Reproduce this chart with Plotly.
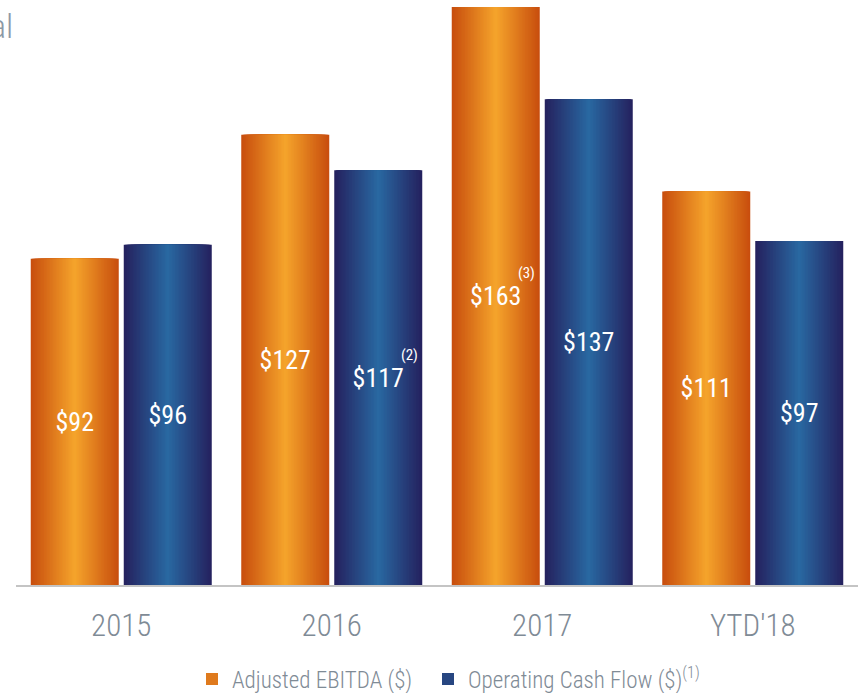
import plotly.graph_objects as go

categories = ["2015", "2016", "2017", "YTD'18"]
ebitda = [92, 127, 163, 111]
ocf = [96, 117, 137, 97]
ebitda_notes = ["", "", "(3)", ""]
ocf_notes = ["", "(2)", "", ""]
series_names = ["Adjusted EBITDA ($)", "Operating Cash Flow ($)<sup>(1)</sup>"]

FONT = "Roboto Condensed, Liberation Sans Narrow, Arial Narrow, DejaVu Sans Condensed, sans-serif"

def lerp(c1, c2, t):
    return "rgb(%d,%d,%d)" % tuple(round(a + (b - a) * t) for a, b in zip(c1, c2))

ORANGE_EDGE, ORANGE_MID = (200, 78, 14), (246, 166, 44)
BLUE_EDGE, BLUE_MID = (37, 34, 95), (41, 106, 163)

CAT_PX = 842 / 4
W = 88 / 210.5
C = 46.5 / 210.5
N = 30

fig = go.Figure()

def add_series(vals, notes, name, edge, mid, center, legend):
    for k in range(N):
        t = k / N
        w = W * (1 - t)
        fig.add_trace(go.Bar(
            x=categories, y=vals, width=[w] * len(vals), offset=center - w / 2,
            marker=dict(color=lerp(edge, mid, t), line=dict(width=0)),
            showlegend=(k == N // 2), name=name, legend=legend,
            hoverinfo="skip",
        ))
    labels = ["$%d" % v for v in vals]
    fig.add_trace(go.Bar(
        x=categories, y=vals, width=[W] * len(vals), offset=center - W / 2,
        marker=dict(color="rgba(0,0,0,0)", line=dict(width=0)),
        text=labels, textposition="inside", insidetextanchor="middle",
        constraintext="none", texttemplate="%{text}", textangle=0,
        textfont=dict(color="white", size=26, family=FONT),
        showlegend=False, hoverinfo="skip",
    ))
    for i, (v, n) in enumerate(zip(vals, notes)):
        if n:
            fig.add_annotation(x=i, y=v / 2, xref="x", yref="y", text=n,
                               showarrow=False, xshift=center * CAT_PX + 31, yshift=23,
                               font=dict(size=15, color="white", family=FONT))

add_series(ebitda, ebitda_notes, series_names[0], ORANGE_EDGE, ORANGE_MID, -C, "legend")
add_series(ocf, ocf_notes, series_names[1], BLUE_EDGE, BLUE_MID, C, "legend2")

fig.add_annotation(text="al", x=0, y=1, xref="paper", yref="paper", xanchor="right",
                   yanchor="top", xshift=-1, yshift=-4, showarrow=False,
                   font=dict(size=34, color="#8c99a6", family=FONT, weight=300))

legend_style = dict(orientation="h", xanchor="left", xref="paper",
                    y=1 - 679 / 693, yanchor="middle", yref="container",
                    font=dict(size=23, color="#7f8b96", family=FONT, weight=300))

fig.update_layout(
    width=858, height=693,
    margin=dict(l=16, r=0, t=0, b=108),
    barmode="overlay",
    plot_bgcolor="white", paper_bgcolor="white",
    font=dict(family=FONT, color="#7f8b96"),
    xaxis=dict(type="category", showline=True, linecolor="#c4c4c4", linewidth=2,
               showgrid=False, ticks="",
               tickfont=dict(size=31, color="#7f8b96", family=FONT, weight=300),
               ticklabelstandoff=12, range=[-0.5, 3.5]),
    yaxis=dict(visible=False, range=[0, 165], showgrid=False),
    legend=dict(x=(192 - 16) / 842, **legend_style),
    legend2=dict(x=(428 - 16) / 842, **legend_style),
    showlegend=True,
)

fig.write_html("out.html", config={"displayModeBar": False},
               post_script="document.body.style.margin='0px';")
